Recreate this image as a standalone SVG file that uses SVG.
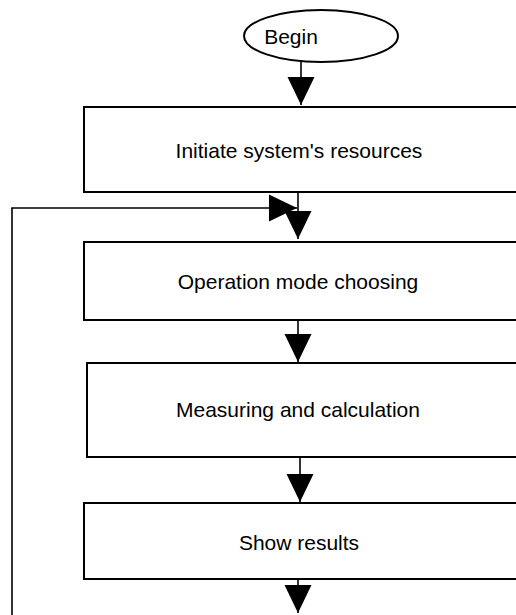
<svg xmlns="http://www.w3.org/2000/svg" width="516" height="615" viewBox="0 0 516 615">
<style>
.box{fill:#fff;stroke:#000;stroke-width:2}
.lbl{font-family:"Liberation Sans",Arial,sans-serif;font-size:21px;fill:#000;text-anchor:middle;dominant-baseline:central}
.ln{fill:none;stroke:#000;stroke-width:1.6}
</style>
<defs>
<marker id="ah" markerUnits="userSpaceOnUse" markerWidth="28" markerHeight="28" viewBox="0 0 27 26" refX="27" refY="13" orient="auto">
<path d="M0,0 L27,13 L0,26 Z" fill="#000"/>
</marker>
</defs>
<rect width="516" height="615" fill="#fff"/>
<g id="begin">
<ellipse cx="321" cy="36" rx="77" ry="26" class="box"/>
<text x="291" y="36" class="lbl">Begin</text>
</g>
<g id="init">
<rect x="84" y="107" width="440" height="85" class="box"/>
<text x="299" y="150" class="lbl">Initiate system's resources</text>
</g>
<g id="mode">
<rect x="84" y="242" width="440" height="78" class="box"/>
<text x="298" y="281" class="lbl">Operation mode choosing</text>
</g>
<g id="measure">
<rect x="87" y="363" width="440" height="94" class="box"/>
<text x="298" y="409" class="lbl">Measuring and calculation</text>
</g>
<g id="show">
<rect x="84" y="503" width="440" height="76" class="box"/>
<text x="299" y="542" class="lbl">Show results</text>
</g>
<g id="connectors">
<path class="ln" d="M301,62 V105" marker-end="url(#ah)"/>
<path class="ln" d="M298,193 V239" marker-end="url(#ah)"/>
<path class="ln" d="M298,320 V362" marker-end="url(#ah)"/>
<path class="ln" d="M300,457 V502" marker-end="url(#ah)"/>
<path class="ln" d="M298,579 V613" marker-end="url(#ah)"/>
<path class="ln" d="M12,615 V208 H297" marker-end="url(#ah)"/>
</g>
</svg>
